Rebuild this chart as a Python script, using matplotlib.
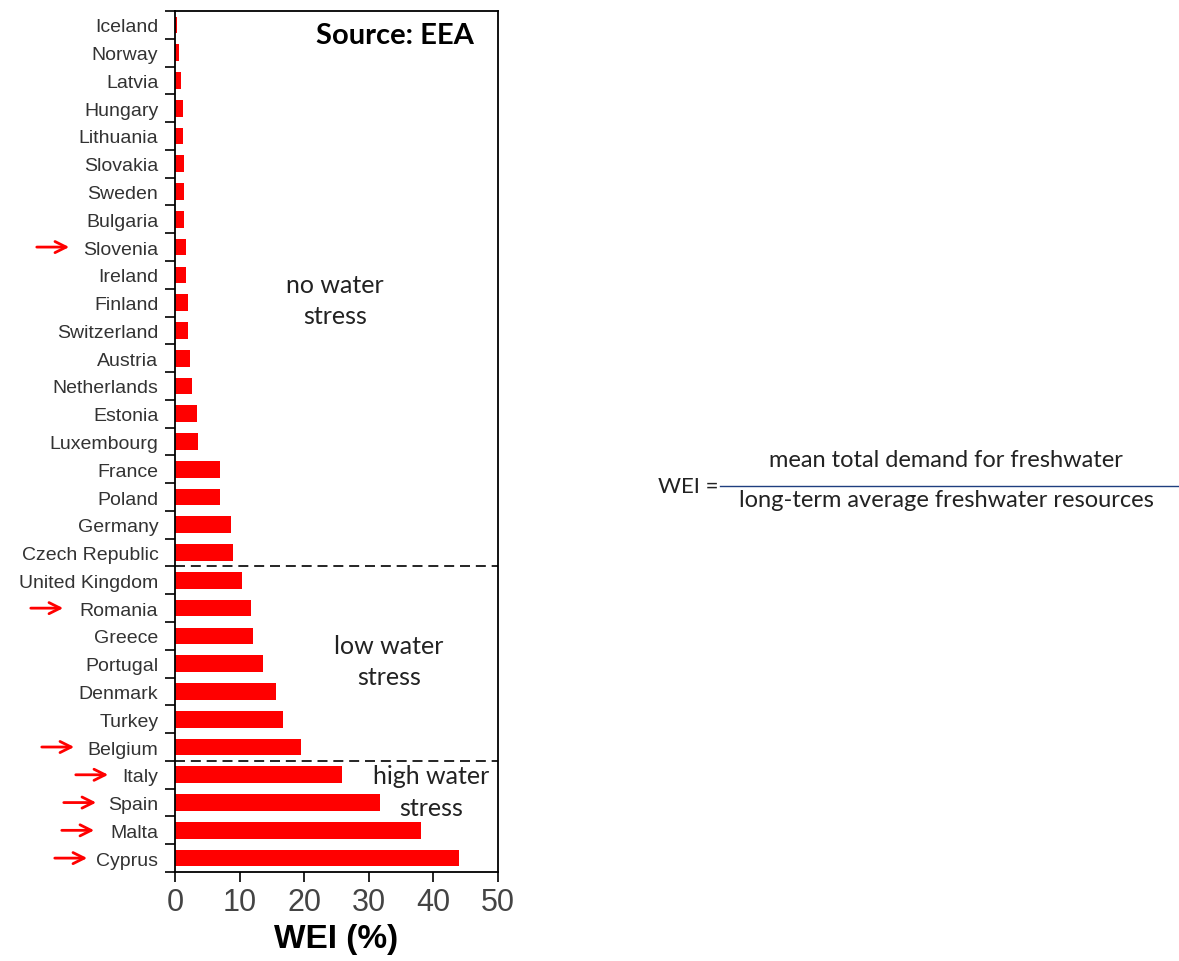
import matplotlib.pyplot as plt
from matplotlib import transforms

countries = ['Iceland', 'Norway', 'Latvia', 'Hungary', 'Lithuania', 'Slovakia', 'Sweden',
             'Bulgaria', 'Slovenia', 'Ireland', 'Finland', 'Switzerland', 'Austria',
             'Netherlands', 'Estonia', 'Luxembourg', 'France', 'Poland', 'Germany',
             'Czech Republic', 'United Kingdom', 'Romania', 'Greece', 'Portugal', 'Denmark',
             'Turkey', 'Belgium', 'Italy', 'Spain', 'Malta', 'Cyprus']
wei = [0.3, 0.6, 0.9, 1.2, 1.2, 1.4, 1.4, 1.4, 1.7, 1.7, 2.0, 2.0, 2.3, 2.6, 3.4, 3.6,
       7.0, 7.0, 8.7, 9.0, 10.4, 11.8, 12.0, 13.6, 15.6, 16.7, 19.5, 25.9, 31.7, 38.1, 44.0]
# countries marked with a red arrow
marked = ['Slovenia', 'Romania', 'Belgium', 'Italy', 'Spain', 'Malta', 'Cyprus']
arrow_tips = [72, 66, 77, 111, 99, 97, 90]  # pixel x of arrow heads

W, H = 1179, 962
fig = plt.figure(figsize=(W / 100, H / 100), dpi=100)
ax = fig.add_axes([175 / W, 1 - 873 / H, (498 - 175) / W, (873 - 12) / H])

y = list(range(len(countries)))
ax.barh(y, wei, height=0.6, color='#ff0000')

ax.set_xlim(0, 50)
ax.set_ylim(len(countries) - 0.5, -0.5)

# ticks between bars, labels centred on bars
ax.set_yticks([i - 0.5 for i in range(len(countries) + 1)])
ax.set_yticklabels([])
ax.set_yticks(y, minor=True)
ax.set_yticklabels(countries, minor=True, fontsize=14, color='#333333',
                   family='Liberation Sans')
ax.tick_params(axis='y', which='major', length=7, width=1.2, direction='out')
ax.tick_params(axis='y', which='minor', length=0, pad=12)

ax.set_xticks([0, 10, 20, 30, 40, 50])
ax.tick_params(axis='x', length=7, width=1.2, direction='out', labelsize=22,
               labelcolor='#444444', pad=4)
for lbl in ax.get_xticklabels():
    lbl.set_family('Liberation Sans')
ax.set_xlabel('WEI (%)', fontsize=24, fontweight='bold', family='Liberation Sans',
              labelpad=4)

for s in ax.spines.values():
    s.set_linewidth(1.3)

ax.axhline(19.5, color='black', linestyle=(0, (6, 3.5)), linewidth=1.2)
ax.axhline(26.5, color='black', linestyle=(0, (6, 3.5)), linewidth=1.2)

ax.text(34.0, 0.35, 'Source: EEA', fontsize=21, fontweight='bold', family='Lato',
        ha='center', va='center')
ax.text(24.8, 9.9, 'no water\nstress', fontsize=18, family='Lato', ha='center',
        va='center', linespacing=1.45, color='#222222')
ax.text(33.1, 22.9, 'low water\nstress', fontsize=18, family='Lato', ha='center',
        va='center', linespacing=1.45, color='#222222')
ax.text(39.6, 27.6, 'high water\nstress', fontsize=18, family='Lato', ha='center',
        va='center', linespacing=1.45, color='#222222')

# red arrows in front of the marked countries
trans = transforms.blended_transform_factory(fig.transFigure, ax.transData)
for name, tip in zip(marked, arrow_tips):
    yi = countries.index(name)
    ax.annotate('', xy=(tip / W, yi), xytext=((tip - 38) / W, yi),
                xycoords=trans, textcoords=trans, annotation_clip=False,
                arrowprops=dict(arrowstyle='->', color='#ff0000', lw=2,
                                mutation_scale=20))

# formula
fig.text(718 / W, 1 - 487 / H, 'WEI =', fontsize=16, family='Lato', ha='right',
         va='center', color='#222222')
fig.add_artist(plt.Line2D([720 / W, 1179 / W], [1 - 487 / H, 1 - 487 / H],
                          color='#1f3f7f', linewidth=1))
fig.text(946 / W, 1 - 461 / H, 'mean total demand for freshwater', fontsize=17,
         family='Lato', ha='center', va='center', color='#222222')
fig.text(946 / W, 1 - 501 / H, 'long-term average freshwater resources', fontsize=17,
         family='Lato', ha='center', va='center', color='#222222')

fig.savefig('out.png', dpi=100)
